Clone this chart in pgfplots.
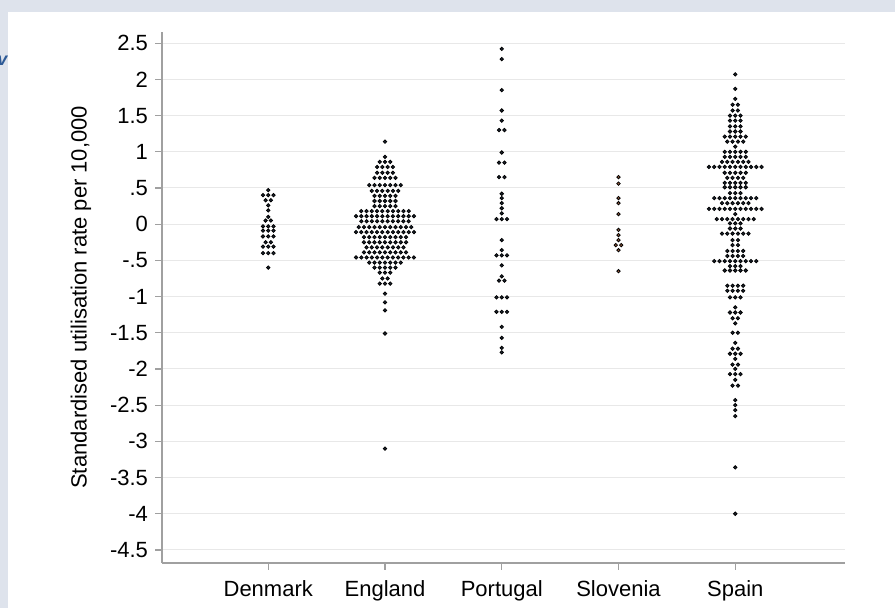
\documentclass[border=0pt]{standalone}
\usepackage{pgfplots}
\pgfplotsset{compat=1.18}
\usepackage{fontspec}
\setmainfont{Liberation Sans}
\definecolor{bgc}{RGB}{222,227,236}
\definecolor{axisgray}{RGB}{160,160,160}
\definecolor{gridc}{RGB}{232,232,232}
\definecolor{dotc}{RGB}{30,40,55}
\definecolor{slo}{RGB}{150,90,60}
\definecolor{vblue}{RGB}{45,90,150}
\begin{document}
\begin{tikzpicture}
\useasboundingbox (0pt,0pt) rectangle (447.5pt,304pt);
\fill[bgc] (0pt,0pt) rectangle (447.5pt,304pt);
\fill[white] (4pt,0pt) rectangle (447.5pt,298pt);
\begin{scope}
\clip (0pt,0pt) rectangle (4pt,304pt);
\node[text=vblue, font=\bfseries\itshape\fontsize{9}{9}\selectfont, anchor=base, inner sep=0pt] at (1.2pt,271pt) {v};
\end{scope}
\begin{axis}[
  at={(81pt,22.5pt)}, anchor=south west,
  scale only axis, width=341.5pt, height=265.7pt,
  xmin=0.09, xmax=5.94, ymin=-4.68, ymax=2.66,
  axis x line*=bottom, axis y line*=left,
  axis line style={draw=axisgray, line width=0.75pt, -},
  tick align=outside,
  major tick length=3.5pt,
  tick style={draw=axisgray, line width=0.6pt},
  ytick={-4.5,-4,-3.5,-3,-2.5,-2,-1.5,-1,-0.5,0,0.5,1,1.5,2,2.5},
  yticklabels={-4.5,-4,-3.5,-3,-2.5,-2,-1.5,-1,-.5,0,.5,1,1.5,2,2.5},
  xtick={1,2,3,4,5},
  xticklabels={Denmark,England,Portugal,Slovenia,Spain},
  xticklabel style={yshift=-2pt},
  ymajorgrids,
  grid style={draw=gridc, line width=0.5pt},
  tick label style={font=\fontsize{11}{13}\selectfont, text=black},
  ylabel={Standardised utilisation rate per 10,000},
  ylabel style={font=\fontsize{11}{13}\selectfont, at={(axis description cs:-0.1186,0.5)}, anchor=center},
  clip=false,
]
% Denmark
\addplot[only marks, mark=*, mark size=0.85pt, draw=none, fill=dotc] coordinates {
(1,0.47)
(0.955,0.40) (1,0.40) (1.045,0.40)
(0.977,0.33) (1.023,0.33)
(1,0.26) (1,0.19) (1,0.10)
(0.977,0.05) (1.023,0.05)
(0.955,-0.03) (1,-0.03) (1.045,-0.03)
(0.955,-0.09) (1,-0.09) (1.045,-0.09)
(0.955,-0.17) (1,-0.17) (1.045,-0.17)
(0.977,-0.25) (1.023,-0.25)
(0.955,-0.31) (1,-0.31) (1.045,-0.31)
(0.955,-0.40) (1,-0.40) (1.045,-0.40)
(1,-0.60)
};
% England
\addplot[only marks, mark=*, mark size=0.85pt, draw=none, fill=dotc] coordinates {
(2,1.14) (2,0.93)
(1.955,0.86) (2,0.86) (2.045,0.86)
(1.932,0.79) (1.977,0.79) (2.023,0.79) (2.068,0.79)
(1.932,0.71) (1.977,0.71) (2.023,0.71) (2.068,0.71)
(1.91,0.64) (1.955,0.64) (2,0.64) (2.045,0.64) (2.09,0.64)
(1.865,0.54) (1.91,0.54) (1.955,0.54) (2,0.54) (2.045,0.54) (2.09,0.54) (2.135,0.54)
(1.887,0.46) (1.932,0.46) (1.977,0.46) (2.023,0.46) (2.068,0.46) (2.113,0.46)
(1.91,0.39) (1.955,0.39) (2,0.39) (2.045,0.39) (2.09,0.39)
(1.91,0.32) (1.955,0.32) (2,0.32) (2.045,0.32) (2.09,0.32)
(1.91,0.25) (1.955,0.25) (2,0.25) (2.045,0.25) (2.09,0.25)
(1.797,0.18) (1.842,0.18) (1.887,0.18) (1.932,0.18) (1.977,0.18) (2.023,0.18) (2.068,0.18) (2.113,0.18) (2.158,0.18) (2.203,0.18)
(1.752,0.11) (1.797,0.11) (1.842,0.11) (1.887,0.11) (1.932,0.11) (1.977,0.11) (2.023,0.11) (2.068,0.11) (2.113,0.11) (2.158,0.11) (2.203,0.11) (2.248,0.11)
(1.797,0.04) (1.842,0.04) (1.887,0.04) (1.932,0.04) (1.977,0.04) (2.023,0.04) (2.068,0.04) (2.113,0.04) (2.158,0.04) (2.203,0.04)
(1.775,-0.04) (1.82,-0.04) (1.865,-0.04) (1.91,-0.04) (1.955,-0.04) (2,-0.04) (2.045,-0.04) (2.09,-0.04) (2.135,-0.04) (2.18,-0.04) (2.225,-0.04)
(1.752,-0.11) (1.797,-0.11) (1.842,-0.11) (1.887,-0.11) (1.932,-0.11) (1.977,-0.11) (2.023,-0.11) (2.068,-0.11) (2.113,-0.11) (2.158,-0.11) (2.203,-0.11) (2.248,-0.11)
(1.82,-0.18) (1.865,-0.18) (1.91,-0.18) (1.955,-0.18) (2,-0.18) (2.045,-0.18) (2.09,-0.18) (2.135,-0.18) (2.18,-0.18)
(1.82,-0.25) (1.865,-0.25) (1.91,-0.25) (1.955,-0.25) (2,-0.25) (2.045,-0.25) (2.09,-0.25) (2.135,-0.25) (2.18,-0.25)
(1.842,-0.32) (1.887,-0.32) (1.932,-0.32) (1.977,-0.32) (2.023,-0.32) (2.068,-0.32) (2.113,-0.32) (2.158,-0.32)
(1.82,-0.39) (1.865,-0.39) (1.91,-0.39) (1.955,-0.39) (2,-0.39) (2.045,-0.39) (2.09,-0.39) (2.135,-0.39) (2.18,-0.39)
(1.752,-0.46) (1.797,-0.46) (1.842,-0.46) (1.887,-0.46) (1.932,-0.46) (1.977,-0.46) (2.023,-0.46) (2.068,-0.46) (2.113,-0.46) (2.158,-0.46) (2.203,-0.46) (2.248,-0.46)
(1.865,-0.53) (1.91,-0.53) (1.955,-0.53) (2,-0.53) (2.045,-0.53) (2.09,-0.53) (2.135,-0.53)
(1.91,-0.60) (1.955,-0.60) (2,-0.60) (2.045,-0.60) (2.09,-0.60)
(1.955,-0.67) (2,-0.67) (2.045,-0.67)
(1.977,-0.75) (2.023,-0.75)
(1.955,-0.82) (2,-0.82) (2.045,-0.82)
(2,-0.96) (2,-1.08) (2,-1.19) (2,-1.51) (2,-3.10)
};
% Portugal
\addplot[only marks, mark=*, mark size=0.85pt, draw=none, fill=dotc] coordinates {
(3,2.42) (3,2.28) (3,1.85) (3,1.57) (3,1.43)
(2.977,1.30) (3.023,1.30)
(3,0.99)
(2.977,0.85) (3.023,0.85)
(2.977,0.65) (3.023,0.65)
(3,0.42) (3,0.36) (3,0.29) (3,0.22) (3,0.15)
(2.955,0.07) (3,0.07) (3.045,0.07)
(3,-0.22) (3,-0.36)
(2.955,-0.43) (3,-0.43) (3.045,-0.43)
(3,-0.57) (3,-0.72)
(2.977,-0.78) (3.023,-0.78)
(2.955,-1.01) (3,-1.01) (3.045,-1.01)
(2.955,-1.21) (3,-1.21) (3.045,-1.21)
(3,-1.42) (3,-1.57) (3,-1.71) (3,-1.77)
};
% Slovenia
\addplot[only marks, mark=*, mark size=0.85pt, draw=none, fill=slo] coordinates {
(4,0.65) (4,0.56) (4,0.36) (4,0.29) (4,0.14)
(4,-0.08) (4,-0.15) (4,-0.22)
(3.977,-0.29) (4.023,-0.29)
(4,-0.36) (4,-0.65)
};
% Spain
\addplot[only marks, mark=*, mark size=0.85pt, draw=none, fill=dotc] coordinates {
(5,2.07) (5,1.87) (5,1.73)
(4.977,1.65) (5.023,1.65)
(4.977,1.57) (5.023,1.57)
(4.955,1.50) (5,1.50) (5.045,1.50)
(4.955,1.43) (5,1.43) (5.045,1.43)
(4.955,1.35) (5,1.35) (5.045,1.35)
(4.955,1.28) (5,1.28) (5.045,1.28)
(4.91,1.21) (4.955,1.21) (5,1.21) (5.045,1.21) (5.09,1.21)
(4.932,1.14) (4.977,1.14) (5.023,1.14) (5.068,1.14)
(5,1.07)
(4.91,1.00) (4.955,1.00) (5,1.00) (5.045,1.00) (5.09,1.00)
(4.91,0.93) (4.955,0.93) (5,0.93) (5.045,0.93) (5.09,0.93)
(4.887,0.86) (4.932,0.86) (4.977,0.86) (5.023,0.86) (5.068,0.86) (5.113,0.86)
(4.775,0.79) (4.82,0.79) (4.865,0.79) (4.91,0.79) (4.955,0.79) (5,0.79) (5.045,0.79) (5.09,0.79) (5.135,0.79) (5.18,0.79) (5.225,0.79)
(4.91,0.71) (4.955,0.71) (5,0.71) (5.045,0.71) (5.09,0.71)
(4.932,0.64) (4.977,0.64) (5.023,0.64) (5.068,0.64)
(4.91,0.57) (4.955,0.57) (5,0.57) (5.045,0.57) (5.09,0.57)
(4.91,0.51) (4.955,0.51) (5,0.51) (5.045,0.51) (5.09,0.51)
(4.955,0.43) (5,0.43) (5.045,0.43)
(4.82,0.36) (4.865,0.36) (4.91,0.36) (4.955,0.36) (5,0.36) (5.045,0.36) (5.09,0.36) (5.135,0.36) (5.18,0.36)
(4.887,0.29) (4.932,0.29) (4.977,0.29) (5.023,0.29) (5.068,0.29) (5.113,0.29)
(4.775,0.21) (4.82,0.21) (4.865,0.21) (4.91,0.21) (4.955,0.21) (5,0.21) (5.045,0.21) (5.09,0.21) (5.135,0.21) (5.18,0.21) (5.225,0.21)
(5,0.14)
(4.842,0.07) (4.887,0.07) (4.932,0.07) (4.977,0.07) (5.023,0.07) (5.068,0.07) (5.113,0.07) (5.158,0.07)
(4.955,0.01) (5,0.01) (5.045,0.01)
(4.955,-0.06) (5,-0.06) (5.045,-0.06)
(4.887,-0.13) (4.932,-0.13) (4.977,-0.13) (5.023,-0.13) (5.068,-0.13) (5.113,-0.13)
(4.977,-0.22) (5.023,-0.22)
(4.977,-0.29) (5.023,-0.29)
(4.932,-0.37) (4.977,-0.37) (5.023,-0.37) (5.068,-0.37)
(4.932,-0.44) (4.977,-0.44) (5.023,-0.44) (5.068,-0.44)
(4.82,-0.51) (4.865,-0.51) (4.91,-0.51) (4.955,-0.51) (5,-0.51) (5.045,-0.51) (5.09,-0.51) (5.135,-0.51) (5.18,-0.51)
(4.955,-0.58) (5,-0.58) (5.045,-0.58)
(4.91,-0.64) (4.955,-0.64) (5,-0.64) (5.045,-0.64) (5.09,-0.64)
(4.932,-0.85) (4.977,-0.85) (5.023,-0.85) (5.068,-0.85)
(4.932,-0.92) (4.977,-0.92) (5.023,-0.92) (5.068,-0.92)
(4.955,-1.01) (5,-1.01) (5.045,-1.01)
(5,-1.15)
(4.955,-1.22) (5,-1.22) (5.045,-1.22)
(4.977,-1.30) (5.023,-1.30)
(5,-1.37)
(4.977,-1.50) (5.023,-1.50)
(5,-1.64)
(4.977,-1.72) (5.023,-1.72)
(4.955,-1.79) (5,-1.79) (5.045,-1.79)
(5,-1.86)
(4.977,-1.94) (5.023,-1.94)
(5,-2.00)
(4.955,-2.07) (5,-2.07) (5.045,-2.07)
(5,-2.15)
(4.977,-2.23) (5.023,-2.23)
(5,-2.43) (5,-2.50) (5,-2.57) (5,-2.65)
(5,-3.36) (5,-4.00)
};
\end{axis}
\end{tikzpicture}
\end{document}
